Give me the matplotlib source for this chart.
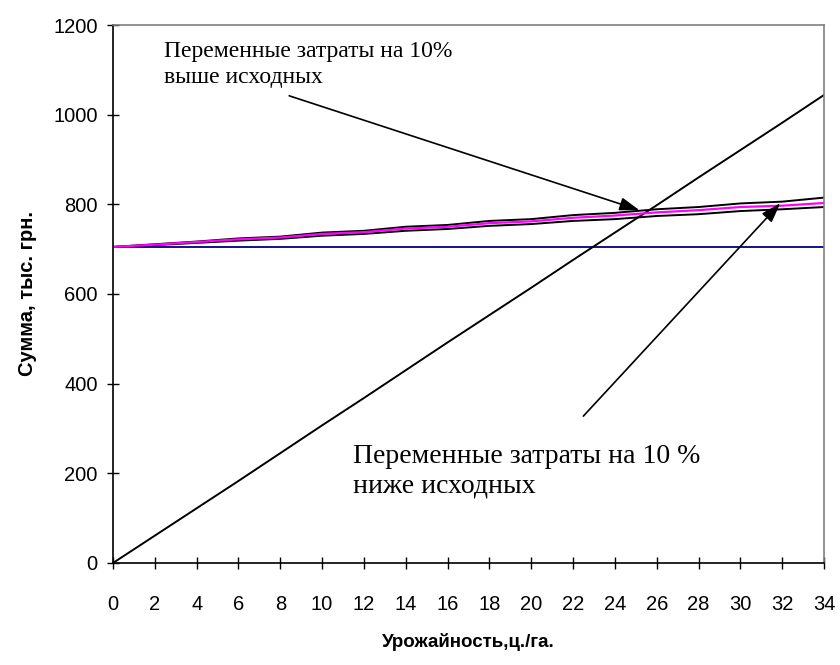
import numpy as np
import matplotlib
matplotlib.use("Agg")
import matplotlib.pyplot as plt

plt.rcParams["font.family"] = ["Liberation Sans", "DejaVu Sans"]

# Урожайность, ц/га
yield_x = [0, 2, 4, 6, 8, 10, 12, 14, 16, 18, 20, 22, 24, 26, 28, 30, 32, 34]

# Выручка
revenue = [0, 61, 122, 183, 245, 307, 368, 430, 492, 553, 614, 676, 737, 798, 860, 921, 982, 1044]
# Постоянные затраты
fixed_costs = [705] * len(yield_x)
# Общие затраты (исходные)
total_base = [705, 710, 716, 722, 726, 734, 738, 746, 750, 758, 762, 770, 775, 782, 787, 794, 797, 803]
# Переменные затраты на 10% выше
total_up = [705, 711, 717, 724, 728, 737, 741, 750, 754, 763, 767, 776, 781, 789, 794, 802, 806, 815]
# Переменные затраты на 10% ниже
total_down = [705, 709, 714, 719, 723, 730, 734, 741, 745, 752, 756, 763, 767, 774, 778, 785, 789, 794]

fig = plt.figure(figsize=(8.4, 6.65), dpi=100)
ax = fig.add_axes([0.1345, 0.1534, 0.8465, 0.809])

ax.plot(yield_x, fixed_costs, color="#000080", lw=1.3)
ax.plot(yield_x, revenue, color="black", lw=1.4)
ax.plot(yield_x, total_up, color="black", lw=1.4)
ax.plot(yield_x, total_down, color="black", lw=1.4)
ax.plot(yield_x, total_base, color="#ff00ff", lw=1.6)

ax.set_xlim(0, 34)
ax.set_ylim(0, 1200)
ax.set_xticks(np.arange(0, 35, 2))
ax.set_yticks(np.arange(0, 1201, 200))
ax.tick_params(direction="inout", length=8, width=1, labelsize=14.5)
ax.tick_params(axis="y", pad=7)
ax.tick_params(axis="x", pad=19)
for side in ["left", "bottom"]:
    ax.spines[side].set_color("black")
    ax.spines[side].set_linewidth(1.2)
for side in ["top", "right"]:
    ax.spines[side].set_color("#808080")
    ax.spines[side].set_linewidth(1.2)

ax.set_ylabel("Сумма, тыс. грн.", fontsize=14.5, fontweight="bold", labelpad=12)
ax.set_xlabel("Урожайность,ц./га.", fontsize=13.5, fontweight="bold", labelpad=14)

serif = ["Liberation Serif", "DejaVu Serif"]
ax.text(2.45, 1112, "Переменные затраты на 10%\nвыше исходных", family=serif,
        fontsize=17, va="center", ha="left", linespacing=1.3)
ax.text(11.5, 205, "Переменные затраты на 10 %\nниже исходных", family=serif,
        fontsize=20, va="center", ha="left", linespacing=1.25)

arrow = dict(arrowstyle="-|>,head_length=1.2,head_width=0.4", color="black", lw=1.2)
ax.annotate("", xy=(25.3, 785), xytext=(8.3, 1044), arrowprops=arrow)
ax.annotate("", xy=(32.0, 807), xytext=(22.4, 323), arrowprops=arrow)

fig.savefig("out.png", dpi=100)
